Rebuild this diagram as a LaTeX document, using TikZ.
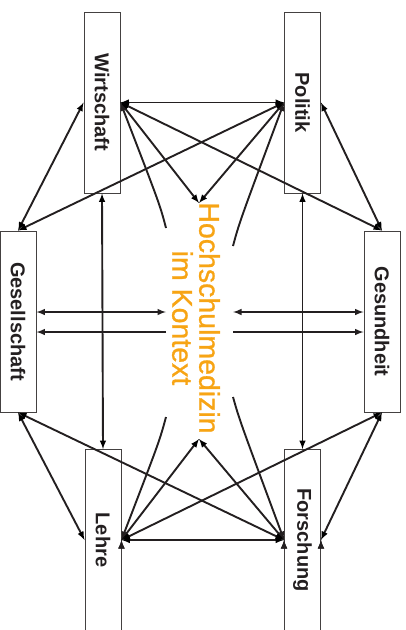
\documentclass[tikz,border=0pt]{standalone}
\usepackage{fontspec}
\setmainfont{Liberation Sans}
\usetikzlibrary{arrows}
\definecolor{ink}{RGB}{35,31,32}
\definecolor{hmorange}{RGB}{247,164,20}
\newfontfamily\titlefont[FakeBold=0.9]{Liberation Sans}
\tikzset{
  area/.style={draw=ink!85, line width=0.9pt, minimum width=36pt, minimum height=181pt, inner sep=0pt, text=ink, font=\bfseries\fontsize{20}{22}\selectfont},
  link/.style={draw=ink, line width=1.9pt},
}

\begin{document}
\begin{tikzpicture}[x=1pt, y=-1pt]
\useasboundingbox (0,0) rectangle (406,630);
% Define the six fields round the centre
\node[area] (wi) at (102,102.5) {\rotatebox{-90}{Wirtschaft}};
\node[area] (po) at (302.5,102.5) {\rotatebox{-90}{Politik}};
\node[area] (gs) at (18,321.5) {\rotatebox{-90}{Gesellschaft}};
\node[area] (gh) at (382,321.5) {\rotatebox{-90}{Gesundheit}};
\node[area] (le) at (103,540) {\rotatebox{-90}{Lehre}};
\node[area] (fo) at (302.5,540) {\rotatebox{-90}{Forschung}};

% The centre title and the free ends next to it
\node[rotate=-90, align=center, text=hmorange, font=\titlefont\fontsize{28.5}{27}\selectfont] (hm) at (196,318) {Hochschulmedizin\\im Kontext};
\coordinate (ht) at (199,203);
\coordinate (hb) at (199,439);
\coordinate (clt) at (166,228);
\coordinate (crt) at (233,246);
\coordinate (clb) at (166,417);
\coordinate (crb) at (233,397);
\coordinate (ml1) at (166,312);
\coordinate (ml2) at (166,332);
\coordinate (mr1) at (233,312);
\coordinate (mr2) at (233,332);

% Draw the outer ring of double arrows
\path[link, latex-latex] (wi.east) edge (po.west) (le.east) edge (fo.west)
  (wi.south) edge (le.north) (po.south) edge (fo.north)
  (wi.west) edge (gs.north) (po.east) edge (gh.north)
  (le.west) edge (gs.south) (fo.east) edge (gh.south);

% Draw the long diagonals
\path[link, latex-latex] (po.west) edge (gs.north) (wi.east) edge (gh.north)
  (fo.west) edge (gs.south) (le.east) edge (gh.south);

% Draw the arrows to the centre title
\path[link, latex-latex] (wi.east) edge (ht) (po.west) edge (ht)
  (le.east) edge (hb) (fo.west) edge (hb);
\draw[link, -latex] (clt) .. controls (160,205) .. (wi.east);
\draw[link, -latex] (crt) .. controls (239.5,222) .. (po.west);
\draw[link, -latex] (clb) .. controls (159.5,441) .. (le.east);
\draw[link, -latex] (crb) .. controls (239.5,420) .. (fo.west);

% Draw the horizontal pairs left and right
\draw[link, latex-latex] ([yshift=9.5pt]gs.east) -- (ml1);
\draw[link, -latex] (ml2) -- ([yshift=-10.5pt]gs.east);
\draw[link, latex-latex] (mr1) -- ([yshift=9.5pt]gh.west);
\draw[link, -latex] (mr2) -- ([yshift=-10.5pt]gh.west);
\end{tikzpicture}
\end{document}
